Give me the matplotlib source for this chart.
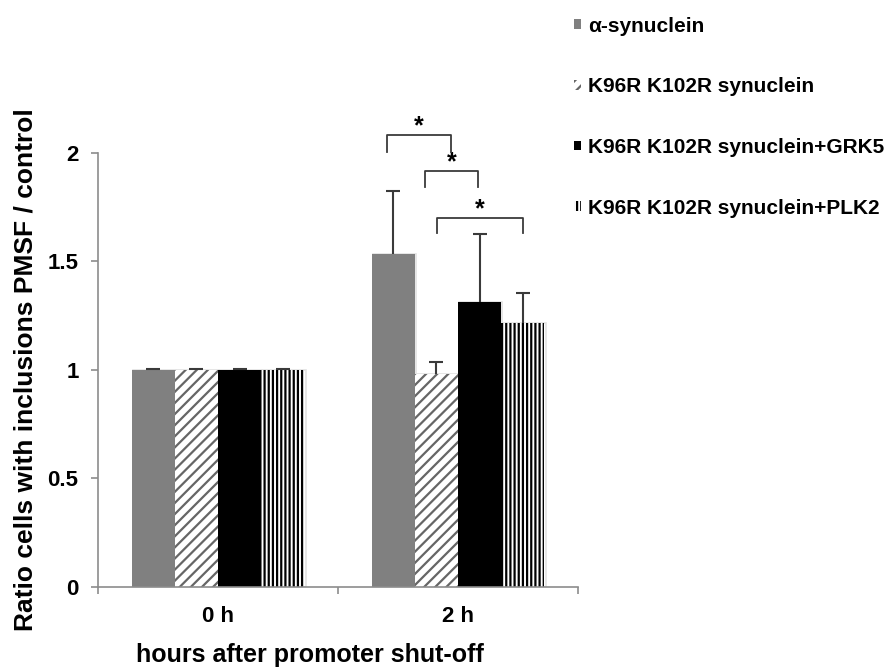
import matplotlib
matplotlib.use('Agg')
import matplotlib.pyplot as plt
import numpy as np

# データ（0 h / 2 h、コントロール比）
categories = ['0 h', '2 h']
series_names = ['α-synuclein', 'K96R K102R synuclein',
                'K96R K102R synuclein+GRK5', 'K96R K102R synuclein+PLK2']
alpha_syn = [1.0, 1.533]
k96r = [1.0, 0.98]
k96r_grk5 = [0.998, 1.312]
k96r_plk2 = [0.998, 1.215]
alpha_syn_err = [0.004, 0.292]
k96r_err = [0.004, 0.056]
k96r_grk5_err = [0.006, 0.313]
k96r_plk2_err = [0.005, 0.138]

plt.rcParams['font.family'] = ['Liberation Sans', 'DejaVu Sans']
plt.rcParams['font.weight'] = 'bold'
plt.rcParams['hatch.linewidth'] = 1.6

fig = plt.figure(figsize=(8.9, 6.68), dpi=100)
ax = fig.add_axes([0.1101, 0.1217, 0.5393, 0.6497])

values = [alpha_syn, k96r, k96r_grk5, k96r_plk2]
errors = [alpha_syn_err, k96r_err, k96r_grk5_err, k96r_plk2_err]
styles = [
    dict(color='#808080', hatch=None, edgecolor='#808080'),
    dict(color='white', hatch='///', edgecolor='#666666'),
    dict(color='black', hatch=None, edgecolor='black'),
    dict(color='white', hatch='||||', edgecolor='black'),
]

x = np.arange(len(categories))
width = 0.18
handles = []
for i, (vals, errs, st) in enumerate(zip(values, errors, styles)):
    pos = x + (i - 1.5) * width
    # Excel風の淡い影
    ax.bar(pos + 0.005, vals, width, color='none', edgecolor='#e2e2e2',
           linewidth=1.2, zorder=1)
    b = ax.bar(pos, vals, width, color=st['color'], hatch=st['hatch'],
               edgecolor=st['edgecolor'], linewidth=0, zorder=2,
               label=series_names[i])
    handles.append(b)
    # 上側だけのエラーバー
    _, caps, _ = ax.errorbar(pos, vals, yerr=[np.zeros(len(errs)), errs],
                             fmt='none', ecolor='#3a3a3a', elinewidth=1.5,
                             capsize=4.7, capthick=1.5, zorder=3)
    caps[0].set_visible(False)

# 有意差の括弧とアスタリスク
brackets = [(0.704, 0.971, 2.003, 2.081),
            (0.863, 1.083, 1.842, 1.915),
            (0.913, 1.270, 1.630, 1.699)]
for x0, x1, y0, y1 in brackets:
    ax.plot([x0, x0, x1, x1], [y0, y1, y1, y0], color='#3a3a3a',
            linewidth=1.3, clip_on=False, zorder=4)
    ax.text((x0 + x1) / 2, y1 + 0.01, '*', ha='center', va='baseline',
            fontsize=18, fontweight='bold', clip_on=False)

ax.set_xlim(-0.5, 1.5)
ax.set_ylim(0, 2)
ax.set_yticks([0, 0.5, 1, 1.5, 2])
ax.set_yticklabels(['0', '0.5', '1', '1.5', '2'])
ax.set_xticks([-0.5, 0.5, 1.5])
ax.set_xticklabels([])
ax.set_xticks(x, minor=True)
ax.set_xticklabels(categories, minor=True)

for side in ['top', 'right']:
    ax.spines[side].set_visible(False)
for side in ['left', 'bottom']:
    ax.spines[side].set_color('#8c8c8c')
    ax.spines[side].set_linewidth(1.2)

ax.tick_params(axis='y', length=5, width=1.2, color='#8c8c8c',
               labelsize=16, pad=9)
ax.tick_params(axis='x', which='major', length=5, width=1.2,
               color='#8c8c8c')
ax.tick_params(axis='x', which='minor', length=0, labelsize=16, pad=14)

ax.set_ylabel('Ratio cells with inclusions PMSF / control', fontsize=19,
              fontweight='bold')
ax.yaxis.set_label_coords(-0.127, 0.5)
ax.set_xlabel('hours after promoter shut-off', fontsize=18,
              fontweight='bold')
ax.xaxis.set_label_coords(0.442, -0.13)

fig.legend(handles=handles, loc='upper left',
           bbox_to_anchor=(0.628, 0.997), frameon=False, fontsize=15,
           handlelength=0.35, handleheight=0.35, handletextpad=0.35,
           labelspacing=2.0, borderaxespad=0.3)

plt.savefig('out.png', dpi=100)
